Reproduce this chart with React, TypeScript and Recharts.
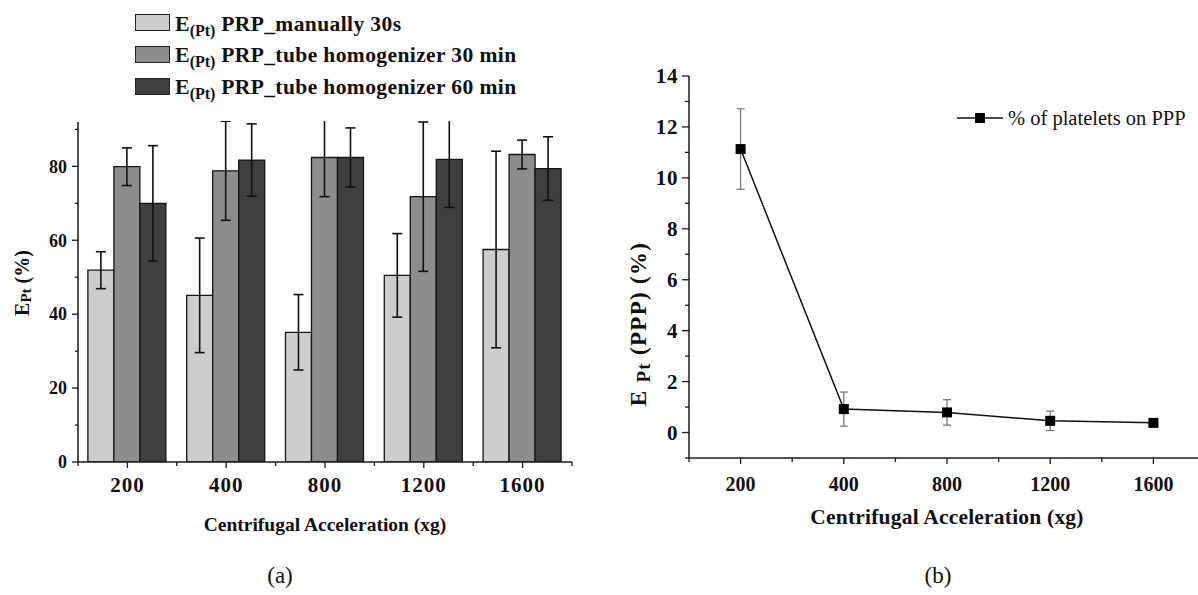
import React from 'react';
import { BarChart, Bar, XAxis, YAxis, ErrorBar, Legend, LineChart, Line, Label } from 'recharts';

const FONT = '"Liberation Serif", "Times New Roman", serif';
const AXIS = '#1a1a1a';

// ---- Panel (a) data ----
const categories = ['200', '400', '800', '1200', '1600'];
const manual30s = [51.9, 45.1, 35.1, 50.5, 57.5];
const manual30sErr = [5.0, 15.5, 10.2, 11.3, 26.6];
const tube30 = [79.9, 78.8, 82.4, 71.8, 83.2];
const tube30Err = [5.1, 13.4, 10.6, 20.2, 3.9];
const tube60 = [70.0, 81.7, 82.4, 81.9, 79.4];
const tube60Err = [15.6, 9.8, 8.0, 13.0, 8.6];
const seriesLabels = ['PRP_manually 30s', 'PRP_tube homogenizer 30 min', 'PRP_tube homogenizer 60 min'];
const seriesColors = ['#cdcdcd', '#8d8d8d', '#3f3f3f'];
const barYTicks = [0, 10, 20, 30, 40, 50, 60, 70, 80, 90];

// ---- Panel (b) data ----
const pppValues = [11.13, 0.92, 0.79, 0.46, 0.38];
const pppErrors = [1.58, 0.67, 0.5, 0.38, 0.04];
const pppYTicks = [-1, 0, 1, 2, 3, 4, 5, 6, 7, 8, 9, 10, 11, 12, 13, 14];
const pppXTicks = [-0.5, 0, 0.5, 1, 1.5, 2, 2.5, 3, 3.5, 4, 4.5];
const pppLegend = '% of platelets on PPP';

const barData = categories.map((c, i) => ({
  cat: c,
  manual: manual30s[i],
  manualErr: manual30sErr[i],
  tube30: tube30[i],
  tube30Err: tube30Err[i],
  tube60: tube60[i],
  tube60Err: tube60Err[i],
}));

const pppData = categories.map((c, i) => ({ idx: i, label: c, ppp: pppValues[i], pppErr: pppErrors[i] }));

const A_TS = 6;
const A_TM = 5;
const B_TS = 7;
const B_TM = 4;

function BarYTick(props: any) {
  const { x, y, payload } = props;
  const axisX = x + A_TS + A_TM;
  const major = payload.value % 20 === 0;
  return (
    <g>
      <line x1={axisX - (major ? 6 : 3)} x2={axisX} y1={y} y2={y} stroke={AXIS} strokeWidth={1.3} />
      {major && (
        <text x={x} y={y} dy="0.35em" textAnchor="end" fontFamily={FONT} fontWeight="bold" fontSize={18} fill="#111">
          {payload.value}
        </text>
      )}
    </g>
  );
}

function BarXTick(props: any) {
  const { x, y, payload, index, width } = props;
  const axisY = y - A_TS - A_TM;
  const band = (typeof width === 'number' ? width : 495) / categories.length;
  const isLast = index === categories.length - 1;
  return (
    <g>
      <line x1={x} x2={x} y1={axisY} y2={axisY + 6} stroke={AXIS} strokeWidth={1.3} />
      <line x1={x - band / 2} x2={x - band / 2} y1={axisY} y2={axisY + 4} stroke={AXIS} strokeWidth={1.3} />
      {isLast && <line x1={x + band / 2} x2={x + band / 2} y1={axisY} y2={axisY + 4} stroke={AXIS} strokeWidth={1.3} />}
      <text x={x} y={axisY + 23} dy="0.35em" textAnchor="middle" fontFamily={FONT} fontWeight="bold" fontSize={21} letterSpacing={1} fill="#111">
        {payload.value}
      </text>
    </g>
  );
}

function PppYTick(props: any) {
  const { x, y, payload } = props;
  const axisX = x + B_TS + B_TM;
  const v = payload.value;
  const major = v >= 0 && v % 2 === 0;
  return (
    <g>
      <line x1={axisX - (major ? 7 : 4)} x2={axisX} y1={y} y2={y} stroke={AXIS} strokeWidth={1.3} />
      {major && (
        <text x={x} y={y} dy="0.35em" textAnchor="end" fontFamily={FONT} fontWeight="bold" fontSize={21} letterSpacing={0.6} fill="#111">
          {v}
        </text>
      )}
    </g>
  );
}

function PppXTick(props: any) {
  const { x, y, payload } = props;
  const axisY = y - B_TS - B_TM;
  const v = payload.value;
  const major = Number.isInteger(v);
  return (
    <g>
      <line x1={x} x2={x} y1={axisY} y2={axisY + (major ? 6 : 4)} stroke={AXIS} strokeWidth={1.3} />
      {major && (
        <text x={x} y={axisY + 26} dy="0.35em" textAnchor="middle" fontFamily={FONT} fontWeight="bold" fontSize={20} fill="#111">
          {categories[v]}
        </text>
      )}
    </g>
  );
}

function SquareDot(props: any) {
  const { cx, cy } = props;
  if (cx == null || cy == null) return null;
  return <rect x={cx - 5} y={cy - 5} width={10} height={10} fill="#000" />;
}

function YTitleA(props: any) {
  const vb = props.viewBox || { x: 18, y: 122, width: 60, height: 340 };
  const cx = vb.x + 4;
  const cy = vb.y + vb.height / 2 - 9;
  return (
    <text x={cx} y={cy} transform={`rotate(-90 ${cx} ${cy})`} textAnchor="middle" dominantBaseline="central" fontFamily={FONT} fontWeight="bold" fontSize={20} fill="#111">
      E<tspan fontSize={15} dy={4}>Pt</tspan>
      <tspan dy={-4}> (%)</tspan>
    </text>
  );
}

function YTitleB(props: any) {
  const vb = props.viewBox || { x: 29, y: 76, width: 60, height: 382 };
  const cx = vb.x + 9;
  const cy = vb.y + vb.height / 2 + 57;
  return (
    <text x={cx} y={cy} transform={`rotate(-90 ${cx} ${cy})`} textAnchor="middle" dominantBaseline="central" fontFamily={FONT} fontWeight="bold" fontSize={23} letterSpacing={1.3} fill="#111" style={{ whiteSpace: 'pre' }}>
      E <tspan fontSize={19} dy={5}>Pt</tspan>
      <tspan dy={-5}> (PPP) (%)</tspan>
    </text>
  );
}

function LegendA(props: any) {
  const payload = props.payload || [];
  return (
    <div style={{ fontFamily: FONT, fontWeight: 'bold', color: '#111' }}>
      {payload.map((entry: any, i: number) => (
        <div key={i} style={{ display: 'flex', alignItems: 'center', height: 31.7 }}>
          <div style={{ boxSizing: 'border-box', width: 35, height: 17, background: entry.color, border: '1.6px solid #222', marginRight: 5, flexShrink: 0 }} />
          <span style={{ lineHeight: 1, whiteSpace: 'pre', position: 'relative', top: 1 }}>
            <span style={{ fontSize: 22 }}>E</span>
            <span style={{ fontSize: 16, position: 'relative', top: 5 }}>(Pt)</span>
            <span style={{ fontSize: 21.5, letterSpacing: 0.4 }}>{' ' + entry.value}</span>
          </span>
        </div>
      ))}
    </div>
  );
}

function LegendB(props: any) {
  const payload = props.payload || [];
  return (
    <div style={{ fontFamily: FONT, color: '#111' }}>
      {payload.map((entry: any, i: number) => (
        <div key={i} style={{ display: 'flex', alignItems: 'center', height: 24 }}>
          <svg width={46} height={12} style={{ display: 'block' }}>
            <line x1={0} y1={6} x2={46} y2={6} stroke="#111" strokeWidth={1.6} />
            <rect x={18} y={1} width={10} height={10} fill="#000" />
          </svg>
          <span style={{ marginLeft: 5, fontSize: 20.5, whiteSpace: 'pre', lineHeight: 1 }}>{entry.value}</span>
        </div>
      ))}
    </div>
  );
}

export default function App() {
  return (
    <div style={{ position: 'absolute', left: 0, top: 0, width: 1198, height: 595, overflow: 'hidden', background: '#fff' }}>
      <style>{`.panelA svg.recharts-surface { clip-path: inset(121px 0px 0px 0px); }`}</style>
      <div className="panelA" style={{ position: 'absolute', left: 0, top: 0 }}>
        <BarChart
          width={600}
          height={595}
          data={barData}
          margin={{ top: 122, right: 28, bottom: 73, left: 18 }}
          barCategoryGap="10%"
          barGap={0}
        >
          <XAxis
            dataKey="cat"
            height={60}
            axisLine={{ stroke: AXIS, strokeWidth: 1.5 }}
            tickLine={false}
            tickSize={A_TS}
            tickMargin={A_TM}
            tick={<BarXTick />}
            interval={0}
          >
            <Label value="Centrifugal Acceleration (xg)" position="bottom" offset={-5} style={{ fontFamily: FONT, fontWeight: 'bold', fontSize: 19.5, fill: '#111' }} />
          </XAxis>
          <YAxis
            width={60}
            type="number"
            domain={[0, 92]}
            allowDataOverflow
            ticks={barYTicks}
            interval={0}
            axisLine={{ stroke: AXIS, strokeWidth: 1.5 }}
            tickLine={false}
            tickSize={A_TS}
            tickMargin={A_TM}
            tick={<BarYTick />}
          >
            <Label content={<YTitleA />} />
          </YAxis>
          <Legend
            layout="vertical"
            align="center"
            verticalAlign="middle"
            wrapperStyle={{ top: 7, left: 135, width: 460 }}
            content={<LegendA />}
          />
          <Bar dataKey="manual" name={seriesLabels[0]} fill={seriesColors[0]} stroke="#151515" strokeWidth={1.3} isAnimationActive={false}>
            <ErrorBar dataKey="manualErr" direction="y" width={5} stroke="#111" strokeWidth={1.6} />
          </Bar>
          <Bar dataKey="tube30" name={seriesLabels[1]} fill={seriesColors[1]} stroke="#151515" strokeWidth={1.3} isAnimationActive={false}>
            <ErrorBar dataKey="tube30Err" direction="y" width={5} stroke="#111" strokeWidth={1.6} />
          </Bar>
          <Bar dataKey="tube60" name={seriesLabels[2]} fill={seriesColors[2]} stroke="#151515" strokeWidth={1.3} isAnimationActive={false}>
            <ErrorBar dataKey="tube60Err" direction="y" width={5} stroke="#111" strokeWidth={1.6} />
          </Bar>
        </BarChart>
      </div>

      <div style={{ position: 'absolute', left: 600, top: 0 }}>
        <LineChart
          width={620}
          height={595}
          data={pppData}
          margin={{ top: 76, right: 15, bottom: 77, left: 29 }}
        >
          <XAxis
            dataKey="idx"
            type="number"
            domain={[-0.5, 4.5]}
            ticks={pppXTicks}
            interval={0}
            height={60}
            axisLine={{ stroke: AXIS, strokeWidth: 1.5 }}
            tickLine={false}
            tickSize={B_TS}
            tickMargin={B_TM}
            tick={<PppXTick />}
          >
            <Label value="Centrifugal Acceleration (xg)" position="bottom" offset={-9} style={{ fontFamily: FONT, fontWeight: 'bold', fontSize: 21.5, letterSpacing: 0.2, fill: '#111' }} />
          </XAxis>
          <YAxis
            width={60}
            type="number"
            domain={[-1, 14]}
            ticks={pppYTicks}
            interval={0}
            axisLine={{ stroke: AXIS, strokeWidth: 1.5 }}
            tickLine={false}
            tickSize={B_TS}
            tickMargin={B_TM}
            tick={<PppYTick />}
          >
            <Label content={<YTitleB />} />
          </YAxis>
          <Legend
            layout="vertical"
            align="center"
            verticalAlign="middle"
            wrapperStyle={{ top: 106, left: 357, width: 260 }}
            content={<LegendB />}
          />
          <Line
            dataKey="ppp"
            name={pppLegend}
            stroke="#111"
            strokeWidth={1.5}
            dot={<SquareDot />}
            activeDot={false}
            isAnimationActive={false}
          >
            <ErrorBar dataKey="pppErr" direction="y" width={4} stroke="#7a7a7a" strokeWidth={1.3} />
          </Line>
        </LineChart>
      </div>

      <div style={{ position: 'absolute', left: 280, top: 563, transform: 'translateX(-50%)', fontFamily: FONT, fontSize: 23, color: '#111' }}>(a)</div>
      <div style={{ position: 'absolute', left: 938, top: 563, transform: 'translateX(-50%)', fontFamily: FONT, fontSize: 23, color: '#111' }}>(b)</div>
    </div>
  );
}
